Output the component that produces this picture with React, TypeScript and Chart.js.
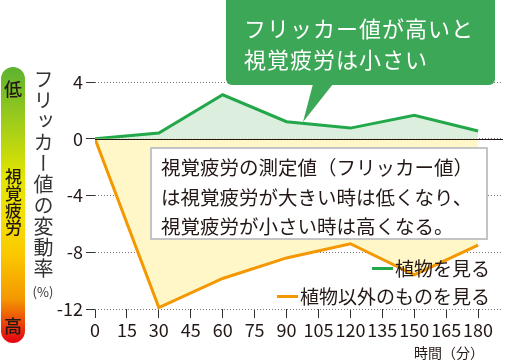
import React, { useEffect, useRef } from "react";
import { Chart, registerables } from "chart.js";

Chart.register(...registerables);

// ---- data ----
const minutes = [0, 30, 60, 90, 120, 150, 180];
const plantValues = [0, 0.4, 3.1, 1.2, 0.75, 1.65, 0.55];
const otherValues = [0, -11.9, -9.85, -8.4, -7.4, -9.6, -7.5];
const seriesNames = ["植物を見る", "植物以外のものを見る"];
const xTickValues = [0, 15, 30, 45, 60, 75, 90, 105, 120, 135, 150, 165, 180];
const yTickValues = [-12, -8, -4, 0, 4];

const GREEN = "#22a84a";
const GREEN_FILL = "rgba(214, 236, 216, 0.85)";
const ORANGE = "#f39800";
const YELLOW_FILL = "#fff7c8";
const FONT = "'Noto Sans CJK JP', 'Noto Sans', sans-serif";
const TEXT = "#231815";

const zeroLine = {
  id: "zeroLine",
  afterDatasetsDraw(chart: any) {
    const { ctx, chartArea, scales } = chart;
    const y = Math.round(scales.y.getPixelForValue(0)) + 0.5;
    ctx.save();
    ctx.strokeStyle = "#231815";
    ctx.lineWidth = 1;
    ctx.beginPath();
    ctx.moveTo(chartArea.left, y);
    ctx.lineTo(chartArea.right, y);
    ctx.stroke();
    ctx.restore();
  },
};

export default function App() {
  const ref = useRef<HTMLCanvasElement | null>(null);

  useEffect(() => {
    if (!ref.current) return;
    const chart = new Chart(ref.current, {
      type: "line",
      data: {
        datasets: [
          {
            label: seriesNames[1],
            data: minutes.map((m, i) => ({ x: m, y: otherValues[i] })),
            borderColor: ORANGE,
            backgroundColor: YELLOW_FILL,
            borderWidth: 3,
            pointRadius: 0,
            tension: 0,
            fill: "origin",
          },
          {
            label: seriesNames[0],
            data: minutes.map((m, i) => ({ x: m, y: plantValues[i] })),
            borderColor: GREEN,
            backgroundColor: GREEN_FILL,
            borderWidth: 3,
            pointRadius: 0,
            tension: 0,
            fill: "origin",
          },
        ],
      },
      options: {
        animation: false,
        responsive: false,
        maintainAspectRatio: false,
        layout: { padding: { left: 0, top: 82, right: 3, bottom: 0 } },
        plugins: { legend: { display: false }, tooltip: { enabled: false } },
        scales: {
          x: {
            type: "linear",
            min: 0,
            max: 191.7,
            afterBuildTicks: (scale: any) => {
              scale.ticks = xTickValues.map((v) => ({ value: v }));
            },
            afterFit: (scale: any) => {
              scale.height = 52;
            },
            border: { display: false },
            grid: {
              drawOnChartArea: false,
              drawTicks: true,
              tickLength: 9,
              tickColor: "#333",
              color: "#333",
            },
            ticks: {
              autoSkip: false,
              maxRotation: 0,
              padding: 1,
              color: TEXT,
              font: { family: FONT, size: 18 },
              callback: (v: any) => String(v),
            },
          },
          y: {
            min: -12,
            max: 4,
            afterBuildTicks: (scale: any) => {
              scale.ticks = yTickValues.map((v) => ({ value: v }));
            },
            afterFit: (scale: any) => {
              scale.width = 95;
            },
            border: { display: false, dash: [1, 2] },
            grid: {
              color: "#777",
              lineWidth: 1,
              tickLength: 9,
              tickColor: "#333",
              tickBorderDash: [],
            },
            ticks: {
              padding: 3,
              color: TEXT,
              font: { family: FONT, size: 18 },
              callback: (v: any) => String(v),
            },
          },
        },
      },
      plugins: [zeroLine],
    } as any);
    return () => chart.destroy();
  }, []);

  const abs = (s: React.CSSProperties): React.CSSProperties => ({ position: "absolute", ...s });

  return (
    <div
      style={{
        position: "fixed",
        left: 0,
        top: 0,
        width: 506,
        height: 361,
        background: "#fff",
        fontFamily: FONT,
        color: TEXT,
        overflow: "hidden",
      }}
    >
      <canvas ref={ref} width={506} height={361} style={{ position: "absolute", left: 0, top: 0 }} />

      {/* left gradient bar */}
      <div
        style={abs({
          left: 1,
          top: 67,
          width: 24,
          height: 276,
          borderRadius: 12,
          background:
            "linear-gradient(to bottom, #5cb230 0%, #a6cf18 22%, #e3e500 40%, #f2df00 55%, #fcc800 68%, #f39800 84%, #e50012 100%)",
        })}
      />
      <div style={abs({ left: 1, top: 77, width: 24, textAlign: "center", fontSize: 18, lineHeight: "22px", fontWeight: 500 })}>低</div>
      <div
        style={abs({
          left: 3,
          top: 168,
          width: 20,
          writingMode: "vertical-rl",
          fontSize: 17,
          lineHeight: "20px",
          fontWeight: 500,
        })}
      >
        視覚疲労
      </div>
      <div style={abs({ left: 1, top: 314, width: 24, textAlign: "center", fontSize: 18, lineHeight: "22px", fontWeight: 500 })}>高</div>

      {/* y axis title */}
      <div
        style={abs({
          left: 33,
          top: 69,
          width: 21,
          writingMode: "vertical-rl",
          fontSize: 20,
          lineHeight: "21px",
          letterSpacing: 1,
          color: "#333",
        })}
      >
        フリッカー値の変動率
      </div>
      <div style={abs({ left: 30, top: 284, width: 26, textAlign: "center", fontSize: 13, lineHeight: "16px", color: "#333" })}>
        (%)
      </div>

      {/* x axis title */}
      <div style={abs({ left: 414, top: 343, width: 74, fontSize: 14, lineHeight: "18px", whiteSpace: "nowrap" })}>
        時間（分）
      </div>

      {/* callout */}
      <svg width={506} height={130} style={{ position: "absolute", left: 0, top: 0 }}>
        <rect x={226} y={-6} width={269} height={91} rx={6} ry={6} fill="#3da758" />
        <polygon points="313,84 333,84 303,122" fill="#3da758" />
      </svg>
      <div
        style={abs({
          left: 244,
          top: 12,
          width: 250,
          fontSize: 22,
          lineHeight: "31px",
          letterSpacing: 1,
          color: "#fff",
          whiteSpace: "nowrap",
        })}
      >
        フリッカー値が高いと
        <br />
        視覚疲労は小さい
      </div>

      {/* explanation box */}
      <div
        style={abs({
          left: 150,
          top: 147,
          width: 334,
          height: 89,
          border: "2px solid #c4c4c4",
          background: "#fff",
          boxSizing: "content-box",
        })}
      />
      <div
        style={abs({
          left: 161,
          top: 152,
          width: 330,
          fontSize: 19.5,
          lineHeight: "29.5px",
          whiteSpace: "nowrap",
        })}
      >
        視覚疲労の測定値（フリッカー値）
        <br />
        は視覚疲労が大きい時は低くなり、
        <br />
        視覚疲労が小さい時は高くなる。
      </div>

      {/* legend */}
      <div style={abs({ right: 16, top: 254, textAlign: "right", fontSize: 19, lineHeight: "28px", whiteSpace: "nowrap" })}>
        <div style={{ display: "flex", alignItems: "center", justifyContent: "flex-end" }}>
          <span style={{ display: "inline-block", width: 21, height: 3, background: GREEN, marginRight: 2 }} />
          {seriesNames[0]}
        </div>
        <div style={{ display: "flex", alignItems: "center", justifyContent: "flex-end" }}>
          <span style={{ display: "inline-block", width: 21, height: 3, background: ORANGE, marginRight: 2 }} />
          {seriesNames[1]}
        </div>
      </div>
    </div>
  );
}
